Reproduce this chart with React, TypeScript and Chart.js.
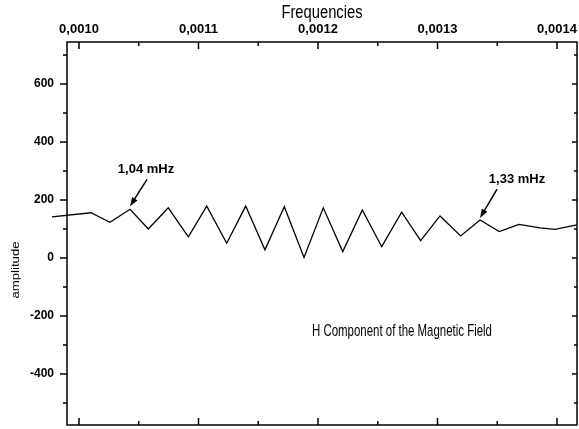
import React, { useEffect, useRef } from "react";
import { Chart, registerables } from "chart.js";

Chart.register(...registerables);

// Frequencies (Hz) and amplitudes
const FREQUENCIES = [
  0.0009774, 0.00101, 0.0010259, 0.0010427, 0.001058, 0.0010747, 0.0010915,
  0.0011069, 0.0011236, 0.0011395, 0.0011556, 0.0011718, 0.0011883, 0.0012044,
  0.0012207, 0.0012371, 0.0012533, 0.00127, 0.0012859, 0.0013021, 0.0013194,
  0.0013356, 0.0013517, 0.0013682, 0.0013858, 0.0013983, 0.0014165,
];
const AMPLITUDES = [
  142, 156, 123, 168, 100, 173, 73, 179, 51, 179, 28, 177, 2, 173, 22, 166, 39,
  158, 60, 145, 76, 131, 91, 116, 104, 99, 114,
];
const X_TICKS = [0.001, 0.0011, 0.0012, 0.0013, 0.0014];
const Y_TICKS = [-400, -200, 0, 200, 400, 600];
const X_RANGE = [0.00098996, 0.00141674];
const Y_RANGE = [-576, 745];
const ANNOTATION_LABELS = ["1,04 mHz", "1,33 mHz"];
const ANNOTATION_INDEX = [3, 21];
const X_TITLE = "Frequencies";
const Y_TITLE = "amplitude";
const CAPTION = "H Component of the Magnetic Field";

const FONT = "'Liberation Sans', Arial, Helvetica, sans-serif";

const decorPlugin = {
  id: "decor",
  afterDraw(chart: any) {
    const { ctx, chartArea: ca } = chart;
    const x = chart.scales.x;
    const y = chart.scales.y;
    ctx.save();
    ctx.strokeStyle = "#000";
    ctx.fillStyle = "#000";
    ctx.lineWidth = 1.5;
    ctx.strokeRect(ca.left, ca.top, ca.right - ca.left, ca.bottom - ca.top);

    const line = (x1: number, y1: number, x2: number, y2: number) => {
      ctx.beginPath();
      ctx.moveTo(x1, y1);
      ctx.lineTo(x2, y2);
      ctx.stroke();
    };

    // x ticks (inward, top and bottom)
    const xStep = X_TICKS[1] - X_TICKS[0];
    const xs: { v: number; major: boolean }[] = [];
    X_TICKS.forEach((v, i) => {
      xs.push({ v, major: true });
      xs.push({ v: v + xStep / 2, major: false });
      if (i === 0) xs.push({ v: v - xStep / 2, major: false });
    });
    xs.forEach(({ v, major }) => {
      if (v < X_RANGE[0] || v > X_RANGE[1]) return;
      const px = x.getPixelForValue(v);
      const len = major ? 7 : 4;
      line(px, ca.top, px, ca.top + len);
      line(px, ca.bottom, px, ca.bottom - len);
    });

    // y ticks (outward left, inward right)
    const yStep = Y_TICKS[1] - Y_TICKS[0];
    const ys: { v: number; major: boolean }[] = [];
    Y_TICKS.forEach((v, i) => {
      ys.push({ v, major: true });
      ys.push({ v: v + yStep / 2, major: false });
      if (i === 0) ys.push({ v: v - yStep / 2, major: false });
    });
    ys.forEach(({ v, major }) => {
      if (v < Y_RANGE[0] || v > Y_RANGE[1]) return;
      const py = y.getPixelForValue(v);
      line(ca.left - (major ? 7 : 4), py, ca.left, py);
      line(ca.right, py, ca.right - (major ? 5 : 3), py);
    });

    // annotations with arrows
    const offs = [
      { tx: 16, ty: -36, tail: [17, -30], tip: [0, -3] },
      { tx: 37, ty: -37, tail: [17, -31], tip: [0, -2] },
    ];
    ctx.font = `bold 13px ${FONT}`;
    ctx.textAlign = "center";
    ctx.textBaseline = "alphabetic";
    ANNOTATION_INDEX.forEach((idx, k) => {
      const px = x.getPixelForValue(FREQUENCIES[idx]);
      const py = y.getPixelForValue(AMPLITUDES[idx]);
      const o = offs[k];
      ctx.fillText(ANNOTATION_LABELS[k], px + o.tx, py + o.ty);
      const tipX = px + o.tip[0];
      const tipY = py + o.tip[1];
      const tailX = px + o.tail[0];
      const tailY = py + o.tail[1];
      const ang = Math.atan2(tipY - tailY, tipX - tailX);
      ctx.lineWidth = 1.5;
      line(tailX, tailY, tipX - 6 * Math.cos(ang), tipY - 6 * Math.sin(ang));
      ctx.beginPath();
      ctx.moveTo(tipX, tipY);
      ctx.lineTo(tipX - 9 * Math.cos(ang) + 3.2 * Math.sin(ang), tipY - 9 * Math.sin(ang) - 3.2 * Math.cos(ang));
      ctx.lineTo(tipX - 9 * Math.cos(ang) - 3.2 * Math.sin(ang), tipY - 9 * Math.sin(ang) + 3.2 * Math.cos(ang));
      ctx.closePath();
      ctx.fill();
    });

    // caption
    ctx.save();
    ctx.font = `17px ${FONT}`;
    ctx.textAlign = "center";
    ctx.translate(ca.left + 335, y.getPixelForValue(-269));
    ctx.scale(0.673, 1);
    ctx.fillText(CAPTION, 0, 0);
    ctx.restore();

    // x title
    ctx.save();
    ctx.font = `18px ${FONT}`;
    ctx.textAlign = "center";
    ctx.translate((ca.left + ca.right) / 2, 18);
    ctx.scale(0.82, 1);
    ctx.fillText(X_TITLE, 0, 0);
    ctx.restore();

    // y title
    ctx.save();
    ctx.font = `11px ${FONT}`;
    ctx.textAlign = "center";
    ctx.textBaseline = "middle";
    ctx.translate(16, 270);
    ctx.rotate(-Math.PI / 2);
    ctx.scale(1.2, 1);
    ctx.fillText(Y_TITLE, 0, 0);
    ctx.restore();

    ctx.restore();
  },
};

export default function App() {
  const ref = useRef<HTMLCanvasElement>(null);

  useEffect(() => {
    if (!ref.current) return;
    const chart = new Chart(ref.current, {
      type: "line",
      data: {
        datasets: [
          {
            data: FREQUENCIES.map((f, i) => ({ x: f, y: AMPLITUDES[i] })),
            borderColor: "#000",
            borderWidth: 1.3,
            pointRadius: 0,
            tension: 0,
            fill: false,
            clip: false as any,
          },
        ],
      },
      options: {
        animation: false,
        responsive: true,
        maintainAspectRatio: false,
        layout: { padding: { left: 0, right: 2, top: 0, bottom: 4 } },
        plugins: { legend: { display: false }, tooltip: { enabled: false } },
        scales: {
          x: {
            type: "linear",
            position: "top",
            min: X_RANGE[0],
            max: X_RANGE[1],
            border: { display: false },
            grid: { display: false, drawTicks: false },
            afterBuildTicks: (s: any) => {
              s.ticks = X_TICKS.map((v) => ({ value: v }));
            },
            afterFit: (s: any) => {
              s.height = 42;
              s.paddingLeft = 0;
              s.paddingRight = 0;
            },
            ticks: {
              color: "#000",
              padding: 5,
              maxRotation: 0,
              autoSkip: false,
              font: { family: FONT, size: 13, weight: "bold" },
              callback: (v: any) => Number(v).toFixed(4).replace(".", ","),
            },
          },
          y: {
            type: "linear",
            min: Y_RANGE[0],
            max: Y_RANGE[1],
            border: { display: false },
            grid: { display: false, drawTicks: false },
            afterBuildTicks: (s: any) => {
              s.ticks = Y_TICKS.map((v) => ({ value: v }));
            },
            afterFit: (s: any) => {
              s.width = 67;
              s.paddingTop = 0;
              s.paddingBottom = 0;
            },
            ticks: {
              color: "#000",
              padding: 13,
              autoSkip: false,
              font: { family: FONT, size: 12, weight: "bold" },
              callback: (v: any) => String(v),
            },
          },
        },
      },
      plugins: [decorPlugin],
    });
    return () => chart.destroy();
  }, []);

  return (
    <div style={{ position: "fixed", left: 0, top: 0, width: 579, height: 429, background: "#fff" }}>
      <canvas ref={ref} />
    </div>
  );
}
